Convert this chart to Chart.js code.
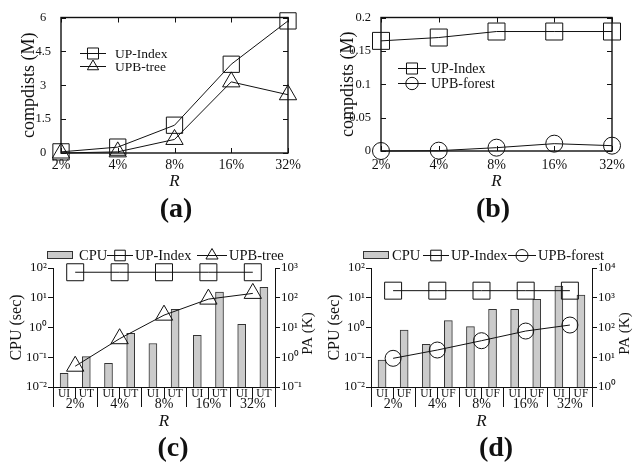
<!DOCTYPE html>
<html><head><meta charset="utf-8">
<script src="https://cdn.jsdelivr.net/npm/chart.js@4.4.1/dist/chart.umd.min.js"></script>
<style>
html,body{margin:0;padding:0;background:#fff;}
body{width:636px;height:463px;overflow:hidden;position:relative;font-family:"Liberation Serif","Times New Roman",serif;}
canvas{position:absolute;}
.cap{position:absolute;font-weight:bold;font-size:28px;color:#111;transform:translate(-50%,-50%);white-space:nowrap;line-height:1;}
</style></head><body>
<canvas id="ca" width="318" height="230" style="left:0;top:0"></canvas>
<canvas id="cb" width="318" height="230" style="left:318px;top:0"></canvas>
<canvas id="cc" width="318" height="233" style="left:0;top:230px"></canvas>
<canvas id="cd" width="318" height="233" style="left:318px;top:230px"></canvas>
<div class="cap" style="left:176px;top:208px">(a)</div>
<div class="cap" style="left:493px;top:208px">(b)</div>
<div class="cap" style="left:173px;top:447px">(c)</div>
<div class="cap" style="left:496px;top:447px">(d)</div>
<script>
// ---------- data ----------
const catsR = ['2%', '4%', '8%', '16%', '32%'];
// (a)
const aTicks = [0, 1.5, 3, 4.5, 6];
const aUPIndex = [0.05, 0.26, 1.23, 3.93, 5.85];
const aUPBtree = [0, 0.05, 0.6, 3.15, 2.58];
// (b)
const bTicks = [0, 0.05, 0.1, 0.15, 0.2];
const bUPIndex = [0.165, 0.17, 0.179, 0.179, 0.179];
const bUPBforest = [0, 0.0005, 0.005, 0.011, 0.008];
// (c)
const cpuTicks = [0.01, 0.1, 1, 10, 100];
const cPaTicks = [0.1, 1, 10, 100, 1000];
const cSubLabels = ['UI', 'UT', 'UI', 'UT', 'UI', 'UT', 'UI', 'UT', 'UI', 'UT'];
const cCPU = [0.029, 0.105, 0.063, 0.64, 0.29, 4.1, 0.55, 15.6, 1.28, 22.4];
const cUPIndexPA = [720, 720, 720, 720, 720];
const cUPBtreePA = [0.5, 4.2, 26, 90, 140];
// (d)
const dPaTicks = [1, 10, 100, 1000, 10000];
const dSubLabels = ['UI', 'UF', 'UI', 'UF', 'UI', 'UF', 'UI', 'UF', 'UI', 'UF'];
const dCPU = [0.081, 0.82, 0.27, 1.7, 1.07, 4.1, 4.1, 8.9, 24.8, 12.4];
const dUPIndexPA = [1730, 1730, 1730, 1730, 1730];
const dUPBforestPA = [9.2, 17.5, 36, 76, 121];

// ---------- styling ----------
const SERIF = '"Liberation Serif","Times New Roman",serif';
const BLACK = '#111';
const BAR_FILL = '#cbcbcb';
const BAR_EDGE = '#333';
Chart.defaults.font.family = SERIF;
Chart.defaults.color = BLACK;
const SUP = {'-2': '\u207B\u00B2', '-1': '\u207B\u00B9', '0': '\u2070', '1': '\u00B9', '2': '\u00B2', '3': '\u00B3', '4': '\u2074'};
const logLabel = v => '10' + SUP[String(Math.round(Math.log10(v)))];

function drawMarker(ctx, style, x, y, r) {
  ctx.beginPath();
  if (style === 'rect') {
    const s = r * Math.SQRT1_2;
    ctx.rect(x - s, y - s, 2 * s, 2 * s);
  } else if (style === 'triangle') {
    const a = 2 * Math.PI / 3;
    ctx.moveTo(x, y - r);
    ctx.lineTo(x + r * Math.sin(a), y - r * Math.cos(a));
    ctx.lineTo(x + r * Math.sin(2 * a), y - r * Math.cos(2 * a));
    ctx.closePath();
  } else {
    ctx.arc(x, y, r, 0, 2 * Math.PI);
  }
  ctx.stroke();
}

function legendPlugin(spec) {
  return {
    id: 'customLegend',
    afterDraw(chart) {
      const ctx = chart.ctx;
      ctx.save();
      ctx.lineWidth = 1;
      ctx.font = spec.size + 'px ' + SERIF;
      ctx.textBaseline = 'middle';
      ctx.textAlign = 'left';
      spec.items.forEach(it => {
        const ds = chart.data.datasets[it.ds];
        if (it.kind === 'box') {
          ctx.fillStyle = BAR_FILL;
          ctx.fillRect(it.x0, it.y - 4, it.x1 - it.x0, 8);
          ctx.strokeStyle = BAR_EDGE;
          ctx.strokeRect(it.x0 + 0.5, it.y - 3.5, it.x1 - it.x0 - 1, 7);
        } else {
          ctx.strokeStyle = BLACK;
          ctx.beginPath();
          ctx.moveTo(it.x0, it.y + 0.5);
          ctx.lineTo(it.x1, it.y + 0.5);
          ctx.stroke();
          drawMarker(ctx, ds.pointStyle, (it.x0 + it.x1) / 2, it.y + 0.5, it.r);
        }
        ctx.fillStyle = BLACK;
        ctx.fillText(ds.label, it.tx, it.y + 1);
      });
      ctx.restore();
    }
  };
}

const framePlugin = {
  id: 'frame',
  beforeDatasetsDraw(chart) {
    const {ctx, chartArea: {left, right, top, bottom}, scales: {x, y}} = chart;
    ctx.save();
    ctx.strokeStyle = BLACK;
    ctx.lineWidth = 1.4;
    ctx.strokeRect(left, top, right - left, bottom - top);
    ctx.lineWidth = 1;
    ctx.beginPath();
    y.ticks.forEach(t => {
      const py = Math.round(y.getPixelForValue(t.value)) + 0.5;
      ctx.moveTo(left, py); ctx.lineTo(left + 5, py);
      ctx.moveTo(right - 5, py); ctx.lineTo(right, py);
    });
    x.ticks.forEach((t, i) => {
      const px = Math.round(x.getPixelForTick(i)) + 0.5;
      ctx.moveTo(px, bottom); ctx.lineTo(px, bottom - 5);
      ctx.moveTo(px, top); ctx.lineTo(px, top + 5);
    });
    ctx.stroke();
    ctx.restore();
  }
};

function groupAxisPlugin(subLabels) {
  return {
    id: 'groupAxis',
    afterDraw(chart) {
      const {ctx, chartArea: {left, right, bottom}, scales: {x}} = chart;
      const al = v => Math.round(v - 0.5) + 0.5;
      ctx.save();
      ctx.strokeStyle = BLACK;
      ctx.lineWidth = 1;
      ctx.beginPath();
      [left, right].forEach(px => { ctx.moveTo(al(px), bottom); ctx.lineTo(al(px), bottom + 20); });
      catsR.forEach((c, g) => {
        const m = al(x.getPixelForValue(2 * g + 0.5));
        ctx.moveTo(m, bottom); ctx.lineTo(m, bottom + 12);
        if (g < catsR.length - 1) {
          const s = al(x.getPixelForValue(2 * g + 1.5));
          ctx.moveTo(s, bottom); ctx.lineTo(s, bottom + 20);
        }
      });
      ctx.stroke();
      ctx.fillStyle = BLACK;
      ctx.textAlign = 'center';
      ctx.textBaseline = 'middle';
      ctx.font = '11.5px ' + SERIF;
      subLabels.forEach((t, i) => ctx.fillText(t, x.getPixelForValue(i), bottom + 6.5));
      ctx.font = '14px ' + SERIF;
      catsR.forEach((t, g) => ctx.fillText(t, x.getPixelForValue(2 * g + 0.5), bottom + 17.5));
      ctx.restore();
    }
  };
}

function rightTitlePlugin(text, dx) {
  return {
    id: 'rightTitle',
    afterDraw(chart) {
      const {ctx, chartArea: {right, top, bottom}} = chart;
      ctx.save();
      ctx.translate(right + dx, (top + bottom) / 2 + 6);
      ctx.rotate(-Math.PI / 2);
      ctx.font = '15px ' + SERIF;
      ctx.fillStyle = BLACK;
      ctx.textAlign = 'center';
      ctx.textBaseline = 'middle';
      ctx.fillText(text, 0, 0);
      ctx.restore();
    }
  };
}

function lineDs(label, data, style, r, axis) {
  return {
    type: 'line', label, data, yAxisID: axis || 'y',
    borderColor: BLACK, borderWidth: 1, tension: 0, fill: false,
    pointStyle: style, pointRadius: r, pointHoverRadius: r,
    pointBorderColor: BLACK, pointBorderWidth: 1,
    pointBackgroundColor: 'rgba(0,0,0,0)', clip: false, order: 1
  };
}

const baseOpts = {
  responsive: false, animation: false, devicePixelRatio: 1,
  events: [],
  plugins: {legend: {display: false}, tooltip: {enabled: false}}
};

// ---------- (a) and (b) ----------
function topChart(id, ticks, fmt, datasets, geom, legendSpec) {
  return new Chart(document.getElementById(id), {
    type: 'line',
    data: {labels: catsR, datasets},
    options: Object.assign({}, baseOpts, {
      layout: {padding: {top: geom.top, right: geom.right, left: 0, bottom: 0}},
      scales: {
        x: {
          type: 'category', offset: false,
          grid: {display: false, drawTicks: false}, border: {display: false},
          ticks: {font: {size: 14}, color: BLACK, padding: geom.xpad, autoSkip: false, maxRotation: 0},
          title: {display: true, text: 'R', color: BLACK, font: {size: 17, style: 'italic'}, padding: {top: 0, bottom: 38}},
          afterFit: s => { s.height = geom.xh; }
        },
        y: {
          min: ticks[0], max: ticks[ticks.length - 1],
          afterBuildTicks: s => { s.ticks = ticks.map(v => ({value: v})); },
          grid: {display: false, drawTicks: false}, border: {display: false},
          ticks: {font: {size: 12.5}, color: BLACK, padding: geom.ypad, crossAlign: geom.cross, callback: fmt},
          title: {display: true, text: 'compdists (M)', color: BLACK, font: {size: 18}, padding: {top: geom.tpad, bottom: 0}},
          afterFit: s => { s.width = geom.left; }
        }
      }
    }),
    plugins: [framePlugin, legendPlugin(legendSpec)]
  });
}

topChart('ca', aTicks, v => String(v),
  [lineDs('UP-Index', aUPIndex, 'rect', 11.5), lineDs('UPB-tree', aUPBtree, 'triangle', 10)],
  {top: 16, right: 30, xh: 77, xpad: 4, ypad: 10, cross: 'center', tpad: 18, left: 61},
  {size: 13.5, items: [
    {ds: 0, kind: 'line', x0: 80, x1: 106, tx: 115, y: 53, r: 7.8},
    {ds: 1, kind: 'line', x0: 80, x1: 106, tx: 115, y: 66, r: 6.5}
  ]});

topChart('cb', bTicks, v => String(+v.toFixed(2)),
  [lineDs('UP-Index', bUPIndex, 'rect', 12), lineDs('UPB-forest', bUPBforest, 'circle', 8.5)],
  {top: 11, right: 24, xh: 79, xpad: 6, ypad: 10, cross: 'near', tpad: 19, left: 63},
  {size: 14, items: [
    {ds: 0, kind: 'line', x0: 80, x1: 108, tx: 113, y: 68, r: 7.8},
    {ds: 1, kind: 'line', x0: 80, x1: 108, tx: 113, y: 83, r: 6.2}
  ]});

// ---------- (c) and (d) ----------
function bottomChart(id, cpu, subLabels, paTicks, lines, geom, legendSpec) {
  const xs = catsR.map((_, g) => 2 * g + 0.5);
  const datasets = [{
    type: 'bar', label: 'CPU', data: cpu.map((v, i) => ({x: i, y: v})),
    backgroundColor: BAR_FILL, borderColor: BAR_EDGE, borderWidth: 1,
    barThickness: 8, yAxisID: 'y', order: 2
  }].concat(lines.map(l => lineDs(l.label, l.data.map((v, g) => ({x: xs[g], y: v})), l.style, l.r, 'y2')));
  return new Chart(document.getElementById(id), {
    type: 'bar',
    data: {datasets},
    options: Object.assign({}, baseOpts, {
      layout: {padding: {top: 38, right: 0, left: 0, bottom: 0}},
      scales: {
        x: {
          type: 'linear', min: -0.5, max: subLabels.length - 0.5, offset: false,
          grid: {display: false, drawTicks: false}, border: {display: true, color: BLACK, width: 1},
          ticks: {display: false},
          title: {display: true, text: 'R', color: BLACK, font: {size: 17, style: 'italic'}, padding: {top: 0, bottom: 31}},
          afterFit: s => { s.height = 76; }
        },
        y: {
          type: 'logarithmic', position: 'left', min: cpuTicks[0], max: cpuTicks[cpuTicks.length - 1],
          afterBuildTicks: s => { s.ticks = cpuTicks.map(v => ({value: v})); },
          grid: {display: true, drawOnChartArea: false, drawTicks: true, tickLength: 5, color: BLACK},
          border: {display: true, color: BLACK, width: 1},
          ticks: {font: {size: 13}, color: BLACK, padding: 1, callback: logLabel},
          title: {display: true, text: 'CPU (sec)', color: BLACK, font: {size: 16}, padding: {top: 7, bottom: 0}},
          afterFit: s => { s.width = geom.left; }
        },
        y2: {
          type: 'logarithmic', position: 'right', min: paTicks[0], max: paTicks[paTicks.length - 1],
          afterBuildTicks: s => { s.ticks = paTicks.map(v => ({value: v})); },
          grid: {display: true, drawOnChartArea: false, drawTicks: true, tickLength: 5, color: BLACK},
          border: {display: true, color: BLACK, width: 1},
          ticks: {font: {size: 13}, color: BLACK, padding: 1, callback: logLabel},
          afterFit: s => { s.width = geom.right; }
        }
      }
    }),
    plugins: [groupAxisPlugin(subLabels), rightTitlePlugin('PA (K)', geom.rt), legendPlugin(legendSpec)]
  });
}

bottomChart('cc', cCPU, cSubLabels, cPaTicks,
  [{label: 'UP-Index', data: cUPIndexPA, style: 'rect', r: 12},
   {label: 'UPB-tree', data: cUPBtreePA, style: 'triangle', r: 10}],
  {left: 53, right: 43, rt: 33},
  {size: 14.5, items: [
    {ds: 0, kind: 'box', x0: 47, x1: 73, tx: 79, y: 25},
    {ds: 1, kind: 'line', x0: 107, x1: 133, tx: 135, y: 25, r: 7.5},
    {ds: 2, kind: 'line', x0: 197, x1: 227, tx: 229, y: 25, r: 7}
  ]});

bottomChart('cd', dCPU, dSubLabels, dPaTicks,
  [{label: 'UP-Index', data: dUPIndexPA, style: 'rect', r: 12},
   {label: 'UPB-forest', data: dUPBforestPA, style: 'circle', r: 8}],
  {left: 53, right: 44, rt: 33},
  {size: 14.5, items: [
    {ds: 0, kind: 'box', x0: 45, x1: 71, tx: 74, y: 25},
    {ds: 1, kind: 'line', x0: 105, x1: 131, tx: 133, y: 25, r: 7.5},
    {ds: 2, kind: 'line', x0: 190, x1: 218, tx: 220, y: 25, r: 6}
  ]});
</script>
</body></html>
